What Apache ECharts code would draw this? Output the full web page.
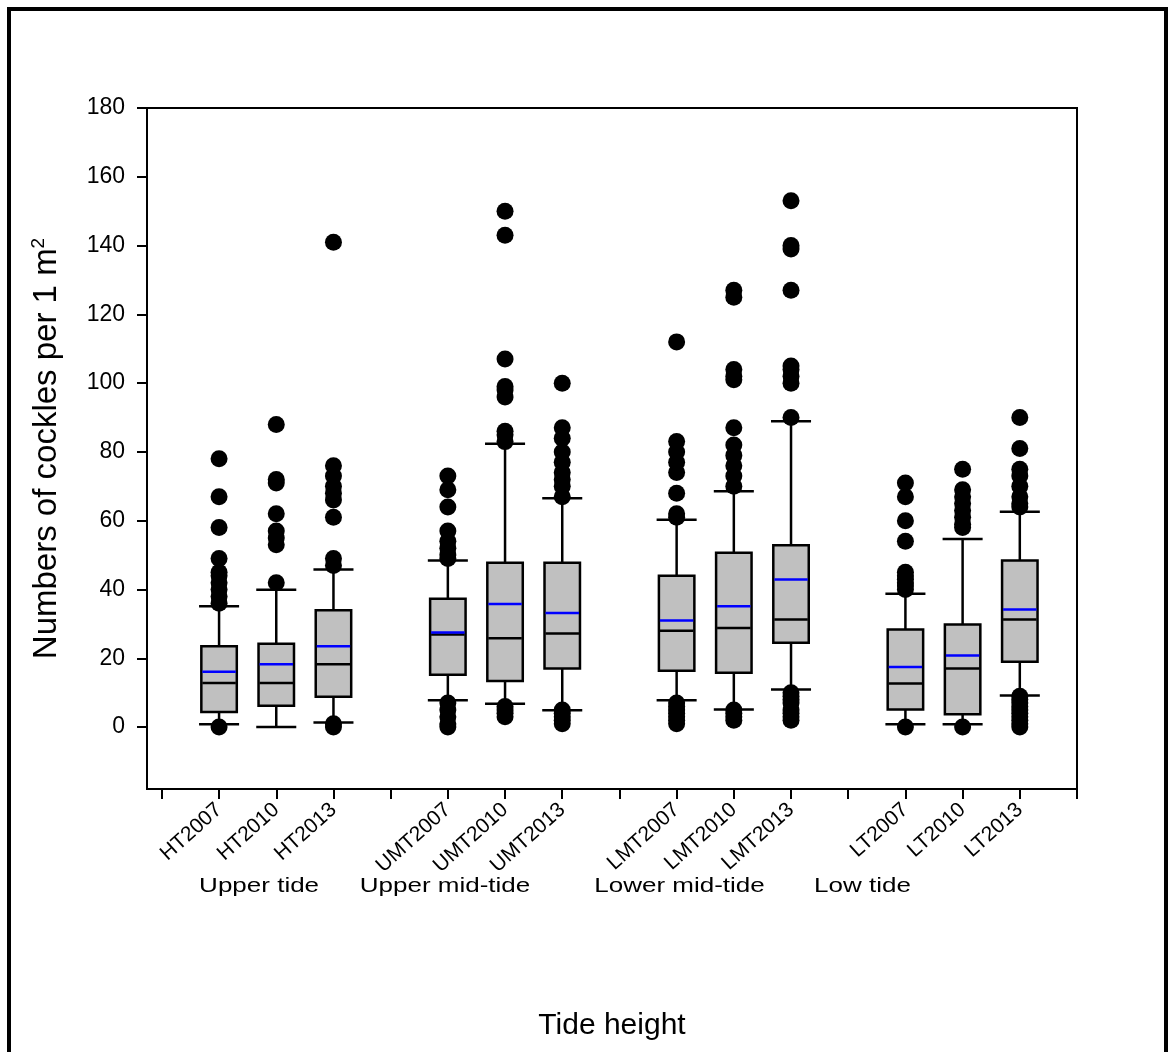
<!DOCTYPE html>
<html><head><meta charset="utf-8">
<script src="https://cdn.jsdelivr.net/npm/echarts@6/dist/echarts.min.js"></script>
<style>html,body{margin:0;padding:0;background:#fff}#c{width:1172px;height:1052px}</style>
</head><body><div id="c"></div>
<script>
const categories = ['HT2007','HT2010','HT2013','UMT2007','UMT2010','UMT2013','LMT2007','LMT2010','LMT2013','LT2007','LT2010','LT2013'];
const positions = [1,2,3,5,6,7,9,10,11,13,14,15];
const whiskerLow  = [0.8, 0,    1.3, 7.8, 6.8, 4.9, 7.8, 5.1, 10.9, 0.8, 0.8, 9.2];
const q1          = [4.4, 6.2,  8.8, 15.2, 13.4, 17.0, 16.4, 15.8, 24.5, 5.1, 3.7, 19.0];
const median      = [12.8, 12.8, 18.3, 26.9, 25.8, 27.2, 28.0, 28.8, 31.3, 12.7, 17.0, 31.3];
const q3          = [23.5, 24.2, 34.0, 37.3, 47.8, 47.8, 44.0, 50.7, 52.9, 28.4, 29.8, 48.4];
const whiskerHigh = [35.1, 39.9, 45.8, 48.4, 82.4, 66.5, 60.3, 68.6, 88.9, 38.8, 54.7, 62.6];
const means       = [16.1, 18.3, 23.5, 27.5, 35.8, 33.2, 31.0, 35.1, 42.9, 17.5, 20.8, 34.2];
const outliers = [
  [0, 36, 38, 40, 42, 44, 45, 49, 58, 67, 78],
  [42, 53, 55, 57, 62, 71, 72, 88],
  [0, 1, 47, 49, 61, 66, 68, 70, 73, 76, 141],
  [0, 1, 3, 5, 7, 49, 50, 52, 54, 57, 64, 69, 73],
  [3, 4, 5, 6, 83, 85, 86, 96, 98, 99, 107, 143, 150],
  [1, 2, 3, 4, 5, 67, 70, 72, 74, 77, 80, 84, 87, 100],
  [1, 2, 3, 4, 5, 6, 7, 61, 62, 68, 74, 77, 80, 83, 112],
  [2, 3, 4, 5, 70, 73, 76, 79, 82, 87, 101, 102, 104, 125, 127],
  [2, 3, 4, 5, 7, 8, 9, 10, 90, 100, 102, 104, 105, 127, 139, 140, 153],
  [0, 40, 41, 42, 43, 44, 45, 54, 60, 67, 71],
  [0, 58, 59, 61, 63, 65, 67, 69, 75],
  [0, 1, 2, 3, 4, 5, 6, 7, 8, 9, 64, 65, 67, 70, 73, 75, 81, 90]
];
const groupNames = ['Upper tide', 'Upper mid-tide', 'Lower mid-tide', 'Low tide'];
const groupLabelPos = [1.7, 4.95, 9.05, 12.25];
const yTicks = [0, 20, 40, 60, 80, 100, 120, 140, 160, 180];
const xTicks = [0,1,2,3,4,5,6,7,8,9,10,11,12,13,14,15,16];

const FONT = 'Liberation Sans, Arial, sans-serif';
const chart = echarts.init(document.getElementById('c'));

const boxData = positions.map((p, i) => [p, whiskerLow[i], q1[i], median[i], q3[i], whiskerHigh[i], means[i]]);
const outlierData = [];
outliers.forEach((arr, i) => arr.forEach(v => outlierData.push([positions[i], v])));

const option = {
  animation: false,
  backgroundColor: '#fff',
  grid: { left: 147, right: 95, top: 108, bottom: 263, show: true, borderColor: '#000', borderWidth: 2, backgroundColor: 'transparent' },
  xAxis: {
    type: 'value', min: -0.26, max: 16,
    name: 'Tide height', nameLocation: 'middle', nameGap: 222,
    nameTextStyle: { fontFamily: FONT, fontSize: 30, color: '#000' },
    axisLine: { show: true, onZero: false, lineStyle: { color: '#000', width: 2 } },
    axisTick: { show: true, inside: false, length: 10, customValues: xTicks, lineStyle: { color: '#000', width: 2 } },
    axisLabel: {
      customValues: positions, rotate: 42, margin: 18, fontFamily: FONT, fontSize: 21, color: '#000',
      formatter: v => { const i = positions.indexOf(v); return i >= 0 ? categories[i] : ''; }
    },
    splitLine: { show: false }
  },
  yAxis: {
    type: 'value', min: -18, max: 180,
    name: 'Numbers of cockles per 1 m{sup|2}', nameLocation: 'middle', nameGap: 82, nameRotate: 90,
    nameTextStyle: { fontFamily: FONT, fontSize: 33, color: '#000',
      rich: { sup: { fontFamily: FONT, fontSize: 19, color: '#000', verticalAlign: 'top', padding: [0, 0, 17, 0] } } },
    axisLine: { show: true, onZero: false, lineStyle: { color: '#000', width: 2 } },
    axisTick: { show: true, inside: false, length: 10, customValues: yTicks, lineStyle: { color: '#000', width: 2 } },
    axisLabel: { customValues: yTicks, margin: 22, fontFamily: FONT, fontSize: 23, color: '#000' },
    splitLine: { show: false }
  },
  series: [
    {
      type: 'custom',
      data: boxData,
      encode: { x: 0, y: [1, 2, 3, 4, 5, 6] },
      z: 2,
      renderItem: function (params, api) {
        const x = api.value(0);
        const lo = api.coord([x, api.value(1)]);
        const b = api.coord([x, api.value(2)]);
        const m = api.coord([x, api.value(3)]);
        const t = api.coord([x, api.value(4)]);
        const hi = api.coord([x, api.value(5)]);
        const mn = api.coord([x, api.value(6)]);
        const bw = api.size([0.62, 0])[0];
        const cw = api.size([0.70, 0])[0];
        const cx = lo[0];
        const black = { stroke: '#000', lineWidth: 2.5 };
        return {
          type: 'group',
          children: [
            { type: 'line', shape: { x1: cx, y1: lo[1], x2: cx, y2: b[1] }, style: black },
            { type: 'line', shape: { x1: cx, y1: t[1], x2: cx, y2: hi[1] }, style: black },
            { type: 'line', shape: { x1: cx - cw / 2, y1: lo[1], x2: cx + cw / 2, y2: lo[1] }, style: black },
            { type: 'line', shape: { x1: cx - cw / 2, y1: hi[1], x2: cx + cw / 2, y2: hi[1] }, style: black },
            { type: 'rect', shape: { x: cx - bw / 2, y: t[1], width: bw, height: b[1] - t[1] }, style: { fill: '#c0c0c0', stroke: '#000', lineWidth: 2.5 } },
            { type: 'line', shape: { x1: cx - bw / 2 + 1, y1: m[1], x2: cx + bw / 2 - 1, y2: m[1] }, style: black },
            { type: 'line', shape: { x1: cx - bw / 2 + 1, y1: mn[1], x2: cx + bw / 2 - 1, y2: mn[1] }, style: { stroke: '#0000ff', lineWidth: 2.5 } }
          ]
        };
      }
    },
    {
      type: 'scatter',
      data: outlierData,
      symbol: 'circle', symbolSize: 17,
      itemStyle: { color: '#000', opacity: 1 },
      z: 3
    }
  ],
  graphic: [
    { type: 'rect', shape: { x: 9, y: 9, width: 1157, height: 1100 }, style: { fill: 'none', stroke: '#000', lineWidth: 4 }, silent: true }
  ]
};
chart.setOption(option);

const gy = 886;
const labels = groupNames.map((n, i) => {
  const px = chart.convertToPixel({ gridIndex: 0 }, [groupLabelPos[i], 0])[0];
  return { type: 'text', x: px, y: gy, scaleX: 1.3, style: { text: n, fontFamily: FONT, fontSize: 20, fill: '#000', textAlign: 'center', textVerticalAlign: 'middle' }, silent: true };
});
chart.setOption({ graphic: option.graphic.concat(labels) });
</script>
</body></html>
